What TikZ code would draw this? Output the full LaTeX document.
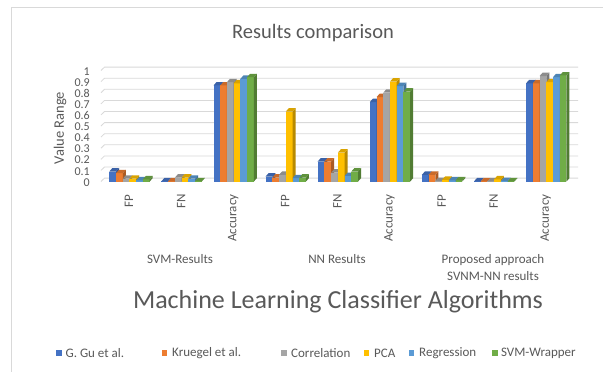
\documentclass[tikz,border=0pt]{standalone}
\usepackage{fontspec}
\setmainfont{Carlito}
\definecolor{s0}{HTML}{4472C4}
\definecolor{s1}{HTML}{ED7D31}
\definecolor{s2}{HTML}{A5A5A5}
\definecolor{s3}{HTML}{FFC000}
\definecolor{s4}{HTML}{5B9BD5}
\definecolor{s5}{HTML}{70AD47}
\definecolor{txt}{HTML}{595959}
\definecolor{gridc}{HTML}{D9D9D9}
\tikzset{
  gridline/.style={draw=gridc, line width=0.8pt},
  frameline/.style={draw=gridc, line width=0.8pt},
  axistext/.style={text=txt, font=\fontsize{13}{16}\selectfont, inner sep=0pt},
  ticktext/.style={text=txt, font=\fontsize{12}{13}\selectfont, inner sep=0pt, anchor=east},
  legtext/.style={text=txt, font=\fontsize{13}{16}\selectfont, inner sep=0pt, anchor=west},
  legkey/.style={minimum size=5.5pt, inner sep=0pt, anchor=west},
}
% one 3-D column: left x, value, colour
\newcommand\colbar[3]{%
  \pgfmathsetmacro\ytop{181.5-111*#2}%
  \fill[#3] (#1,181.5) rectangle (#1+6.73,\ytop);
  \fill[#3!72!black] (#1+6.73,181.5) -- (#1+9.73,178.1) -- (#1+9.73,\ytop-3.4) -- (#1+6.73,\ytop) -- cycle;
  \fill[#3!85!black] (#1,\ytop) -- (#1+3,\ytop-3.4) -- (#1+9.73,\ytop-3.4) -- (#1+6.73,\ytop) -- cycle;
}
% one category of six columns: index, values
\newcommand\category[2]{%
  \foreach [count=\j from 0] \v in {#2} {
    \pgfmathsetmacro\xx{109.3+52.1*#1+6.73*\j}
    \colbar{\xx}{\v}{s\j}
  }
}
\begin{document}
\begin{tikzpicture}[x=1pt,y=-1pt]
\useasboundingbox (0,0) rectangle (603,372);
\fill[white] (0,0) rectangle (603,372);
\draw[frameline] (11,372) -- (11,7) -- (603,7);

% value grid and tick labels
\foreach \k/\t in {0/0,1/0.1,2/0.2,3/0.3,4/0.4,5/0.5,6/0.6,7/0.7,8/0.8,9/0.9,10/1} {
  \pgfmathsetmacro\yy{181.5-11.1*\k}
  \draw[gridline] (101,\yy) -- (104.5,\yy-3.4) -- (578,\yy-3.4);
  \node[ticktext] (tick\k) at (90,\yy+0.8) {\t};
}

% columns
\category{0}{0.09,0.075,0.025,0.025,0.01,0.02}
\category{1}{0.002,0.002,0.035,0.035,0.025,0.003}
\category{2}{0.865,0.865,0.895,0.885,0.925,0.94}
\category{3}{0.045,0.035,0.06,0.63,0.03,0.035}
\category{4}{0.18,0.18,0.08,0.26,0.05,0.09}
\category{5}{0.715,0.76,0.80,0.90,0.86,0.81}
\category{6}{0.06,0.06,0.005,0.015,0.01,0.01}
\category{7}{0.001,0.001,0.002,0.02,0.005,0.002}
\category{8}{0.885,0.885,0.95,0.895,0.94,0.955}

% category labels
\foreach \i/\t in {0/FP,1/FN,2/Accuracy,3/FP,4/FN,5/Accuracy,6/FP,7/FN,8/Accuracy} {
  \node[axistext, rotate=90, anchor=east] (cat\i) at (129+52.1*\i,194.4) {\t};
}

% group labels
\node[axistext] (g1) at (180,259) {SVM-Results};
\node[axistext] (g2) at (337,259) {NN Results};
\node[axistext, align=center, font=\fontsize{13}{17}\selectfont] (g3) at (493,267.5) {Proposed approach\\SVNM-NN results};

% titles
\node[text=txt, inner sep=0pt, font=\fontsize{20.5}{24}\selectfont] (title) at (313,33) {Results comparison};
\node[text=txt, inner sep=0pt, font=\fontsize{26}{30}\selectfont] (xtitle) at (338,302) {Machine Learning Classifier Algorithms};
\node[text=txt, inner sep=0pt, rotate=90, font=\fontsize{14.5}{17}\selectfont] (ytitle) at (60,128) {Value Range};

% legend
\foreach \c/\kx/\tx/\t in {s0/55.8/65.4/G. Gu et al., s1/161.5/172/Kruegel et al., s2/280.8/291/Correlation, s3/363.5/374/PCA, s4/408.5/419/Regression, s5/492/500.8/SVM-Wrapper} {
  \node[legkey, fill=\c] (key\c) at (\kx,353) {};
  \node[legtext] (leg\c) at (\tx,353) {\t};
}
\end{tikzpicture}
\end{document}
